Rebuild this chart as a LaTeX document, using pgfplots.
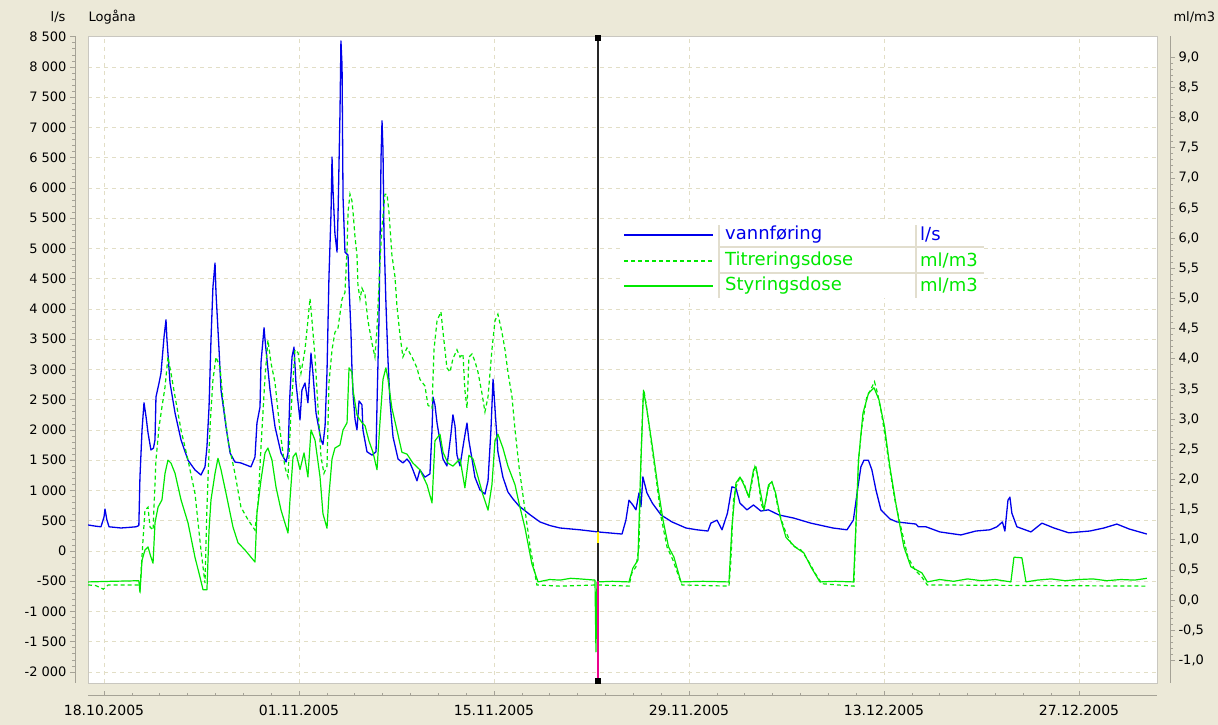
\documentclass[border=0pt]{standalone}
\usepackage{fontspec}
\setmainfont{DejaVu Sans}
\usepackage{pgfplots}
\pgfplotsset{compat=1.18}
\usepackage{pgfplotstable}

\definecolor{panel}{RGB}{236,233,216}
\definecolor{flow}{RGB}{0,0,235}
\definecolor{dose}{RGB}{0,232,0}
\definecolor{gridc}{RGB}{226,222,198}
\definecolor{ruler}{RGB}{165,162,150}
\definecolor{sep}{RGB}{226,222,206}

% days after 18.10.2005, vannføring in l/s
\pgfplotstableread{
d v
-1.15 430
-0.60 410
-0.22 400
0.00 560
0.07 694
0.20 520
0.36 400
1.22 380
1.80 390
2.30 400
2.50 420
2.58 1220
2.73 2000
2.87 2450
3.02 2215
3.16 1950
3.37 1670
3.55 1700
3.66 1835
3.73 2545
3.95 2777
4.09 2940
4.31 3540
4.45 3820
4.52 3490
4.74 2777
5.10 2280
5.53 1835
6.03 1500
6.53 1340
6.96 1256
7.25 1390
7.39 1720
7.54 2380
7.68 3490
7.82 4360
7.97 4760
8.04 4265
8.26 3320
8.40 2660
8.76 2050
9.05 1620
9.40 1470
9.83 1455
10.55 1390
10.84 1555
10.98 2115
11.20 2380
11.27 3110
11.49 3690
11.56 3490
11.92 2660
12.28 2050
12.71 1620
13.07 1470
13.21 1620
13.35 2610
13.50 3210
13.64 3370
13.78 2777
14.07 2165
14.21 2660
14.43 2777
14.64 2450
14.86 3270
15.00 2940
15.22 2280
15.58 1835
15.72 1760
15.87 2065
16.01 2960
16.15 4530
16.30 5600
16.37 6510
16.44 5970
16.58 5240
16.73 4940
16.80 5550
16.94 7220
17.01 8430
17.09 8020
17.16 5850
17.30 4940
17.52 4890
17.59 4400
17.73 3620
17.80 3025
17.88 2600
18.02 2180
18.16 2000
18.31 2480
18.52 2415
18.59 2000
18.88 1640
19.24 1585
19.53 1640
19.60 2415
19.74 3800
19.81 5010
19.89 6510
19.96 7110
20.03 6630
20.10 5240
20.24 4100
20.39 3140
20.53 2480
20.75 1885
21.11 1520
21.46 1455
21.75 1520
21.97 1455
22.18 1340
22.47 1160
22.68 1340
23.04 1220
23.40 1275
23.55 2000
23.62 2545
23.76 2415
23.91 2115
24.12 1820
24.34 1520
24.62 1405
24.91 1935
25.05 2250
25.20 2065
25.34 1585
25.56 1405
25.84 1820
26.06 2115
26.20 1820
26.42 1520
26.63 1220
26.99 1010
27.35 940
27.57 1160
27.78 2000
27.93 2840
28.00 2600
28.14 2115
28.28 1640
28.64 1220
29.00 975
29.36 860
29.79 745
30.58 600
31.30 480
32.02 420
32.74 380
34.17 350
35.46 315
37.19 280
37.47 510
37.69 840
37.97 760
38.19 680
38.41 960
38.55 730
38.69 1225
38.98 960
39.37 790
39.99 595
40.78 480
41.78 380
42.57 350
43.36 330
43.57 460
44.01 510
44.37 350
44.76 625
45.08 1060
45.37 1040
45.66 790
46.16 680
46.63 760
47.16 660
47.70 680
48.46 595
49.50 545
50.75 460
52.33 380
53.34 350
53.80 510
54.13 1060
54.34 1390
54.56 1500
54.88 1500
55.13 1340
55.42 1010
55.78 680
56.42 530
56.93 480
57.72 460
58.29 445
58.47 400
59.01 400
60.01 315
61.52 265
62.60 330
63.60 350
64.11 400
64.50 480
64.68 330
64.90 840
65.04 890
65.18 625
65.54 400
66.55 315
67.34 460
68.20 380
69.27 300
70.78 330
71.79 380
72.72 445
73.58 365
74.87 280
}\flowdata

% Titreringsdose, ml/m3
\pgfplotstableread{
d v
-1.15 0.25
-0.60 0.24
-0.05 0.18
0.30 0.25
2.50 0.25
2.58 0.17
2.80 1.00
2.94 1.49
3.16 1.54
3.30 1.21
3.52 1.16
3.73 2.32
3.95 2.87
4.16 3.20
4.38 3.53
4.59 4.03
4.81 3.76
5.10 3.37
5.53 2.82
6.03 2.32
6.53 1.77
6.96 0.83
7.25 0.28
7.39 1.54
7.61 2.87
7.82 3.65
8.04 4.03
8.33 3.86
8.54 3.32
8.90 2.65
9.40 2.10
9.83 1.54
10.34 1.33
10.84 1.16
11.06 1.61
11.27 2.54
11.56 3.70
11.77 4.31
11.99 3.93
12.28 3.60
12.63 2.82
12.99 2.20
13.21 2.04
13.42 3.10
13.71 4.15
13.93 4.10
14.14 3.76
14.43 4.15
14.64 4.64
14.79 5.00
14.93 4.64
15.15 4.03
15.36 3.20
15.58 2.37
15.79 2.10
16.01 2.22
16.15 3.60
16.37 4.15
16.58 4.44
16.80 4.51
17.09 4.99
17.30 5.10
17.45 5.84
17.52 6.43
17.66 6.73
17.80 6.62
17.88 6.43
18.02 6.02
18.16 5.72
18.23 5.22
18.38 4.99
18.52 5.17
18.74 5.06
18.95 4.63
19.24 4.26
19.45 4.03
19.60 4.51
19.81 5.59
19.96 6.20
20.17 6.73
20.32 6.73
20.46 6.43
20.67 5.72
20.89 5.36
21.03 4.88
21.25 4.39
21.46 4.03
21.75 4.18
22.11 4.03
22.47 3.85
22.68 3.66
23.04 3.55
23.26 3.23
23.55 3.18
23.69 4.15
23.91 4.63
24.19 4.78
24.34 4.44
24.62 3.85
24.84 3.78
25.05 4.00
25.34 4.15
25.56 4.03
25.77 4.08
25.91 3.48
26.06 3.18
26.20 4.03
26.42 4.08
26.63 3.96
26.85 3.78
27.14 3.42
27.35 3.12
27.57 3.37
27.85 4.15
28.07 4.63
28.28 4.74
28.57 4.44
28.79 4.15
29.00 3.78
29.29 3.37
29.51 2.82
29.79 2.22
30.22 1.50
30.58 0.90
31.08 0.25
32.74 0.23
35.46 0.25
37.69 0.23
37.90 0.45
38.19 0.55
38.41 0.88
38.55 2.32
38.69 3.27
38.76 3.48
38.91 3.27
39.27 2.65
39.63 2.04
39.99 1.38
40.42 0.88
40.85 0.66
41.17 0.45
41.50 0.25
44.87 0.23
45.01 0.66
45.19 1.66
45.37 1.87
45.66 2.04
45.94 1.94
46.30 1.69
46.55 1.99
46.73 2.21
46.95 2.07
47.16 1.61
47.38 1.49
47.70 1.87
47.95 1.96
48.17 1.79
48.46 1.44
48.89 1.16
49.39 0.91
50.04 0.83
50.54 0.66
51.04 0.45
51.54 0.27
53.84 0.23
53.98 1.21
54.17 2.32
54.41 2.87
54.77 3.37
55.13 3.53
55.32 3.62
55.53 3.43
55.78 3.15
56.04 2.77
56.42 2.16
56.78 1.66
57.21 1.21
57.72 0.71
58.22 0.50
58.72 0.38
59.11 0.25
74.87 0.23
}\titdata

% Styringsdose, ml/m3
\pgfplotstableread{
d v
-1.15 0.30
0.50 0.31
2.50 0.32
2.58 0.13
2.73 0.66
2.94 0.83
3.16 0.88
3.37 0.71
3.52 0.61
3.66 1.28
3.88 1.54
4.16 1.66
4.38 2.10
4.59 2.32
4.81 2.27
5.10 2.10
5.53 1.66
6.03 1.28
6.53 0.71
6.89 0.38
7.11 0.17
7.39 0.17
7.54 1.16
7.68 1.66
7.97 2.10
8.18 2.35
8.40 2.16
8.76 1.77
9.26 1.21
9.62 0.95
10.12 0.83
10.55 0.71
10.84 0.63
10.98 1.44
11.27 1.99
11.56 2.44
11.77 2.52
12.06 2.32
12.35 1.87
12.71 1.49
13.21 1.11
13.35 1.66
13.57 2.37
13.78 2.44
14.07 2.16
14.36 2.44
14.64 2.04
14.86 2.82
15.15 2.65
15.51 2.04
15.72 1.43
16.01 1.19
16.15 1.74
16.37 2.34
16.58 2.52
16.94 2.57
17.16 2.82
17.45 2.94
17.59 3.85
17.80 3.78
17.88 3.48
18.16 3.07
18.52 2.94
18.74 2.89
19.02 2.64
19.31 2.45
19.60 2.16
19.81 2.94
20.03 3.66
20.24 3.85
20.39 3.66
20.67 3.18
21.03 2.82
21.39 2.45
21.75 2.42
22.18 2.27
22.68 2.16
23.19 1.91
23.55 1.61
23.76 2.64
24.12 2.75
24.34 2.45
24.69 2.27
25.05 2.22
25.56 2.34
25.91 1.86
26.20 2.40
26.49 2.34
26.85 2.04
27.21 1.74
27.57 1.49
27.85 1.91
28.07 2.64
28.28 2.75
28.64 2.52
29.00 2.22
29.51 1.91
29.79 1.61
30.22 1.20
30.72 0.60
31.16 0.30
32.00 0.34
32.74 0.33
33.50 0.36
34.17 0.35
35.25 0.33
35.32 -0.86
35.39 0.30
36.50 0.31
37.69 0.30
37.97 0.53
38.33 0.66
38.55 2.32
38.73 3.48
38.98 3.15
39.37 2.54
39.77 1.87
40.13 1.33
40.53 0.88
40.92 0.71
41.42 0.30
43.00 0.31
44.87 0.30
45.08 1.21
45.37 1.94
45.66 2.04
45.94 1.91
46.30 1.71
46.63 2.16
46.81 2.21
47.06 1.87
47.38 1.49
47.71 1.91
47.95 1.96
48.22 1.77
48.60 1.33
48.96 1.04
49.61 0.88
50.25 0.78
50.75 0.55
51.40 0.30
52.50 0.31
53.81 0.30
53.98 1.21
54.17 2.32
54.49 3.10
54.89 3.43
55.28 3.52
55.64 3.32
56.04 2.87
56.42 2.21
56.93 1.49
57.43 0.88
57.93 0.55
58.72 0.45
59.11 0.30
60.00 0.34
61.00 0.31
62.00 0.35
63.00 0.32
64.00 0.34
65.11 0.30
65.33 0.71
65.90 0.70
66.19 0.30
67.00 0.33
68.00 0.35
69.00 0.32
70.00 0.34
71.00 0.35
72.00 0.32
73.00 0.34
74.00 0.33
74.87 0.36
}\stydata

\tikzset{labfont/.style={font=\fontsize{13}{15}\selectfont},
         datefont/.style={font=\fontsize{14}{16}\selectfont}}
\pgfplotsset{
  frame/.style={at={(88pt,42pt)}, anchor=south west, scale only axis,
    width=1069pt, height=647pt, xmin=-1.15, xmax=75.6},
}

\begin{document}
\begin{tikzpicture}[x=1pt,y=1pt]
\fill[panel] (0,0) rectangle (1218,725);
\useasboundingbox (0,0) rectangle (1218,725);

% plot area with grid and the flow series (left scale)
\begin{axis}[frame, ymin=-2182, ymax=8512,
  axis background/.style={fill=white},
  axis line style={draw=ruler!60, line width=0.8pt},
  xtick={0,14,...,70}, ytick={-2000,-1500,...,8500},
  xticklabels={}, yticklabels={}, major tick length=0pt,
  grid=major,
  major grid style={gridc, dash pattern=on 4pt off 4pt, line width=0.8pt}]
\addplot[flow, line width=1.3pt, line join=round] table[x=d, y=v]{\flowdata};
\end{axis}

% dose series on the right scale, plus the time cursor
\begin{axis}[frame, ymin=-1.376, ymax=9.353, hide axis]
\addplot[dose, line width=1.2pt, dash pattern=on 4pt off 3pt] table[x=d, y=v]{\titdata};
\addplot[dose, line width=1.2pt, line join=round] table[x=d, y=v]{\stydata};
\addplot[black!85, line width=1.4pt] coordinates {(35.46,9.32) (35.46,-1.33)};
\addplot[yellow, line width=1.4pt] coordinates {(35.46,1.13) (35.46,0.95)};
\addplot[magenta, line width=1.4pt] coordinates {(35.46,0.315) (35.46,-1.33)};
\addplot[only marks, mark=square*, mark size=2.5pt, black] coordinates {(35.46,9.32) (35.46,-1.33)};
\end{axis}

% left ruler
\begin{axis}[at={(75pt,42pt)}, anchor=south west, scale only axis,
  width=1pt, height=647pt, xmin=0, xmax=1, ymin=-2182, ymax=8512,
  axis y line*=left, hide x axis,
  ytick={-2000,-1500,...,8500},
  yticklabels={-2 000,-1 500,-1 000,-500,0,500,1 000,1 500,2 000,2 500,3 000,3 500,4 000,4 500,5 000,5 500,6 000,6 500,7 000,7 500,8 000,8 500},
  minor y tick num=4, tick align=outside,
  major tick length=5pt, minor tick length=3pt,
  tick style={ruler, line width=0.7pt}, axis line style={ruler, line width=1pt},
  yticklabel style={labfont, text=black}]
\end{axis}

% right ruler
\begin{axis}[at={(1170pt,42pt)}, anchor=south east, scale only axis,
  width=1pt, height=647pt, xmin=0, xmax=1, ymin=-1.376, ymax=9.353,
  axis y line*=right, hide x axis,
  ytick={-1,-0.5,...,9},
  yticklabels={{-1,0},{-0,5},{0,0},{0,5},{1,0},{1,5},{2,0},{2,5},{3,0},{3,5},{4,0},{4,5},{5,0},{5,5},{6,0},{6,5},{7,0},{7,5},{8,0},{8,5},{9,0}},
  minor y tick num=4, tick align=outside,
  major tick length=5pt, minor tick length=3pt,
  tick style={ruler, line width=0.7pt}, axis line style={ruler, line width=1pt},
  yticklabel style={labfont, text=black}]
\end{axis}

% time ruler
\begin{axis}[at={(88pt,29pt)}, anchor=south west, scale only axis,
  width=1069pt, height=1pt, xmin=-1.15, xmax=75.6, ymin=0, ymax=1,
  axis x line*=bottom, hide y axis,
  xtick={0,14,...,70},
  xticklabels={18.10.2005,01.11.2005,15.11.2005,29.11.2005,13.12.2005,27.12.2005},
  minor x tick num=6, tick align=inside,
  major tick length=5pt, minor tick length=3pt,
  tick style={ruler, line width=0.7pt}, axis line style={ruler, line width=1pt},
  xticklabel style={datefont, text=black, yshift=-6pt}]
\end{axis}

% headings
\node[anchor=east, labfont] at (69,708) {l/s};
\node[anchor=west, labfont] at (85,708) {Logåna};
\node[anchor=west, labfont] at (1170,708) {ml/m3};

% legend table
\fill[white] (620,427) rectangle (984,502);
\draw[sep, line width=1.5pt] (719,427) -- (719,500) (916,427) -- (916,500);
\draw[sep, line width=1.5pt] (719,478) -- (984,478) (719,452) -- (984,452);
\draw[flow, line width=1.2pt] (624,490) -- (713,490);
\draw[dose, line width=1.2pt, dash pattern=on 4pt off 3pt] (624,464) -- (713,464);
\draw[dose, line width=1.2pt] (624,439) -- (713,439);
\begin{scope}[every node/.style={anchor=west, font=\fontsize{18}{20}\selectfont, inner sep=0pt}]
\node[text=flow] at (725,490) {vannføring};
\node[text=dose] at (725,464) {Titreringsdose};
\node[text=dose] at (725,439) {Styringsdose};
\node[text=flow] at (920,490) {l/s};
\node[text=dose] at (920,464) {ml/m3};
\node[text=dose] at (920,439) {ml/m3};
\end{scope}
\end{tikzpicture}
\end{document}
